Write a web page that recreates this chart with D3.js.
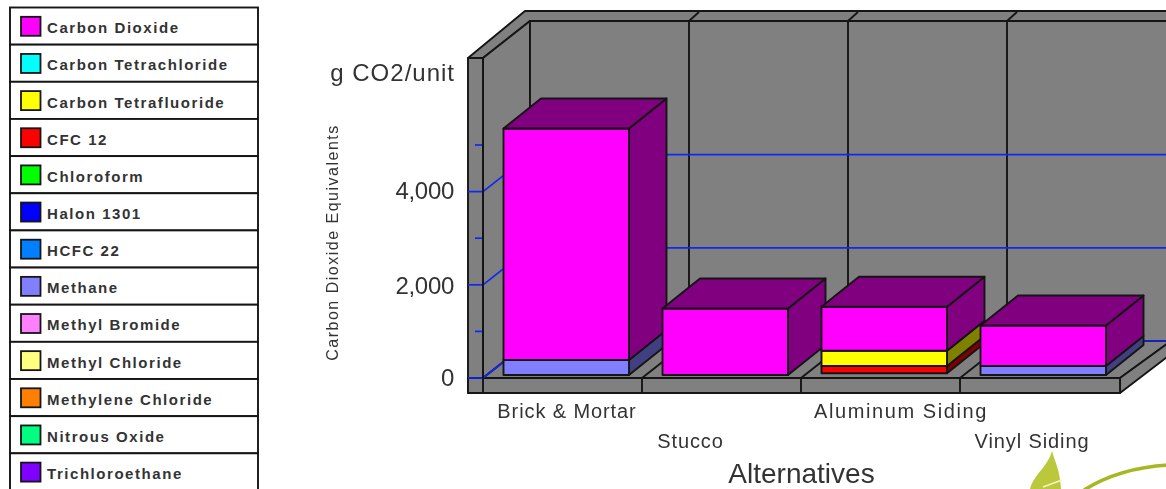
<!DOCTYPE html>
<html><head><meta charset="utf-8">
<script src="https://cdnjs.cloudflare.com/ajax/libs/d3/7.8.5/d3.min.js"></script>
<style>
html,body{margin:0;padding:0;background:#fff;overflow:hidden}
svg{display:block;filter:blur(0.55px)}
text{font-family:"Liberation Sans",Arial,sans-serif;fill:#333}
</style></head><body>
<svg id="c" width="1166" height="489"></svg>
<script>
// ---- data ----
const gases = ["Carbon Dioxide","Carbon Tetrachloride","Carbon Tetrafluoride","CFC 12","Chloroform","Halon 1301","HCFC 22","Methane","Methyl Bromide","Methyl Chloride","Methylene Chloride","Nitrous Oxide","Trichloroethane"];
const gasColors = ["#ff00ff","#00ffff","#ffff00","#ff0000","#00ff00","#0000ff","#0080ff","#8080ff","#ff80ff","#ffff80","#ff8000","#00ff80","#8000ff"];
const alternatives = ["Brick & Mortar","Stucco","Aluminum Siding","Vinyl Siding"];
const carbonDioxide = [4968,1427,944,869];
const carbonTetrafluoride = [0,0,328,0];
const cfc12 = [0,0,157,0];
const methane = [322,0,0,193];
const majorTicks = [0,2000,4000];
const minorTicks = [1000,3000,5000];
const tickLabels = ["0","2,000","4,000"];
const stackOrder = [["CFC 12",cfc12],["Carbon Tetrafluoride",carbonTetrafluoride],["Methane",methane],["Carbon Dioxide",carbonDioxide]];

// ---- layout ----
const svg = d3.select("#c");
const gray="#808080", ink="#151515", blue="#1028f0";
const dx=47, dy=37;           // wall/floor depth
const bdx=37.5, bdy=30;       // bar depth
const y = d3.scaleLinear().domain([0,5000]).range([375,142]);
const axisShift = 3;          // axis zero sits slightly under the bar base
const x = d3.scalePoint().domain(alternatives).range([503.5,980.5]);
const barW = 125.5;
const floorStep = x.step();
const floorL=483, floorTop=378, floorBot=393, stripL=468, wallTop=58, backL=530, backT=21, topT=11;
const W=1166;
const LW=1.9;
const poly=(pts,fill,sw=LW)=>svg.append("polygon").attr("points",pts.map(p=>p.join(",")).join(" ")).attr("fill",fill).attr("stroke",ink).attr("stroke-width",sw).attr("stroke-linejoin","round");
const line=(x1,y1,x2,y2,c=ink,w=LW)=>svg.append("line").attr("x1",x1).attr("y1",y1).attr("x2",x2).attr("y2",y2).attr("stroke",c).attr("stroke-width",w);

// ---- legend ----
const rowY = d3.scaleBand().domain(gases).range([7.5,7.5+37.15*13]);
const lg = svg.append("g").selectAll("g").data(gases).join("g").attr("transform",d=>`translate(10,${rowY(d)})`);
lg.append("rect").attr("width",248).attr("height",rowY.step()).attr("fill","#fff").attr("stroke",ink).attr("stroke-width",1.9);
lg.append("rect").attr("x",11).attr("y",9.3).attr("width",19.5).attr("height",19).attr("fill",(d,i)=>gasColors[i]).attr("stroke",ink).attr("stroke-width",1.8);
lg.append("text").attr("x",37).attr("y",25.8).attr("font-size",15).attr("font-weight",700).attr("letter-spacing",1.55).attr("fill","#333").text(d=>d);

// ---- walls ----
poly([[stripL,wallTop],[backL-5,topT],[W+5,topT],[W+5,backT],[backL,backT],[floorL,wallTop]],gray);
poly([[floorL,wallTop],[backL,backT],[backL,floorTop-dy],[floorL,floorTop]],gray);
poly([[backL,backT],[W+5,backT],[W+5,floorTop-dy],[backL,floorTop-dy]],gray);
poly([[stripL,wallTop],[floorL,wallTop],[floorL,floorBot],[stripL,floorBot]],gray);
// floor
poly([[floorL,floorTop],[backL,floorTop-dy],[W+5,floorTop-dy],[W+5,floorTop-dy],[floorL+floorStep*4+1,floorTop]],gray);
poly([[floorL+floorStep*4+1,floorTop],[W+5,floorTop-dy],[W+5,floorBot-dy-2],[floorL+floorStep*4+1,floorBot]],gray);
poly([[stripL,floorTop],[floorL+floorStep*4+1,floorTop],[floorL+floorStep*4+1,floorBot],[stripL,floorBot]],gray);

// dividers
alternatives.forEach((d,i)=>{
  const fx=floorL+floorStep*(i+1), bx=backL+floorStep*(i+1);
  if(i<3){
    line(fx,floorTop,fx,floorBot);
    line(fx,floorTop,bx,floorTop-dy);
    line(bx,backT,bx,floorTop-dy);
    line(bx,backT,bx+10,topT+1);
  }
});

// gridlines
const gy=v=>y(v)+axisShift;
majorTicks.forEach(v=>{
  line(stripL,gy(v),floorL,gy(v),blue,1.7);
  line(floorL,gy(v),backL,gy(v)-dy,blue,1.7);
  line(backL,gy(v)-dy,W,gy(v)-dy,blue,1.7);
});
minorTicks.forEach(v=>line(475,gy(v),floorL,gy(v),blue,1.7));
line(floorL,wallTop,floorL,floorBot);

// ---- bars ----
const baseNudge={"Aluminum Siding":-1.7};
const dark=c=>{const k=d3.rgb(c);return d3.rgb(k.r/2,k.g/2,k.b/2).formatHex()};
const colorOf=n=>gasColors[gases.indexOf(n)];
alternatives.forEach((cat,i)=>{
  const L=x(cat), R=L+barW, nudge=baseNudge[cat]||0;
  let acc=0, last=null;
  stackOrder.forEach(([name,vals])=>{
    const v=vals[i]; if(!v) return;
    const y0=y(acc)+nudge, y1=y(acc+v)+nudge;
    poly([[R,y0],[R+bdx,y0-bdy],[R+bdx,y1-bdy],[R,y1]],dark(colorOf(name)));
    poly([[L,y1],[R,y1],[R,y0],[L,y0]],colorOf(name));
    acc+=v; last={y1,name};
  });
  poly([[L,last.y1],[L+bdx,last.y1-bdy],[R+bdx,last.y1-bdy],[R,last.y1]],dark(colorOf(last.name)));
});

// ---- text ----
const labelRow=[0,1,0,1];
const labelX=[567,690.5,901,1032];
const labelSpacing=[0.9,0.9,1.6,0.9];
svg.append("g").selectAll("text").data(alternatives).join("text")
  .attr("x",(d,i)=>labelX[i]).attr("y",(d,i)=>labelRow[i]?448:418).attr("text-anchor","middle")
  .attr("font-size",20).attr("letter-spacing",(d,i)=>labelSpacing[i]).text(d=>d);
svg.append("g").selectAll("text").data(majorTicks).join("text")
  .attr("x",454).attr("y",(d,i)=>[386,294,199][i]).attr("text-anchor","end").attr("font-size",24).attr("letter-spacing",-0.3).text((d,i)=>tickLabels[i]);
svg.append("text").attr("x",455).attr("y",81).attr("text-anchor","end").attr("font-size",24).attr("letter-spacing",1).text("g CO2/unit");
svg.append("text").attr("transform","translate(338,242.5) rotate(-90)").attr("text-anchor","middle").attr("font-size",16).attr("letter-spacing",1.5).text("Carbon Dioxide Equivalents");
svg.append("text").attr("x",801.5).attr("y",483).attr("text-anchor","middle").attr("font-size",28).text("Alternatives");

// ---- decoration at the bottom right ----
svg.append("path").attr("d","M1052,451 C1055,462 1060,470 1061,489 L1030,489 C1034,474 1047,468 1052,451Z").attr("fill","#bcc83c");
svg.append("path").attr("d","M1043,487 L1062,480").attr("stroke","#f1f4d0").attr("stroke-width",1.5).attr("fill","none");
svg.append("path").attr("d","M1084,490 C1108,475 1135,467 1168,465").attr("stroke","#a9b624").attr("stroke-width",3.5).attr("fill","none");
</script></body></html>
